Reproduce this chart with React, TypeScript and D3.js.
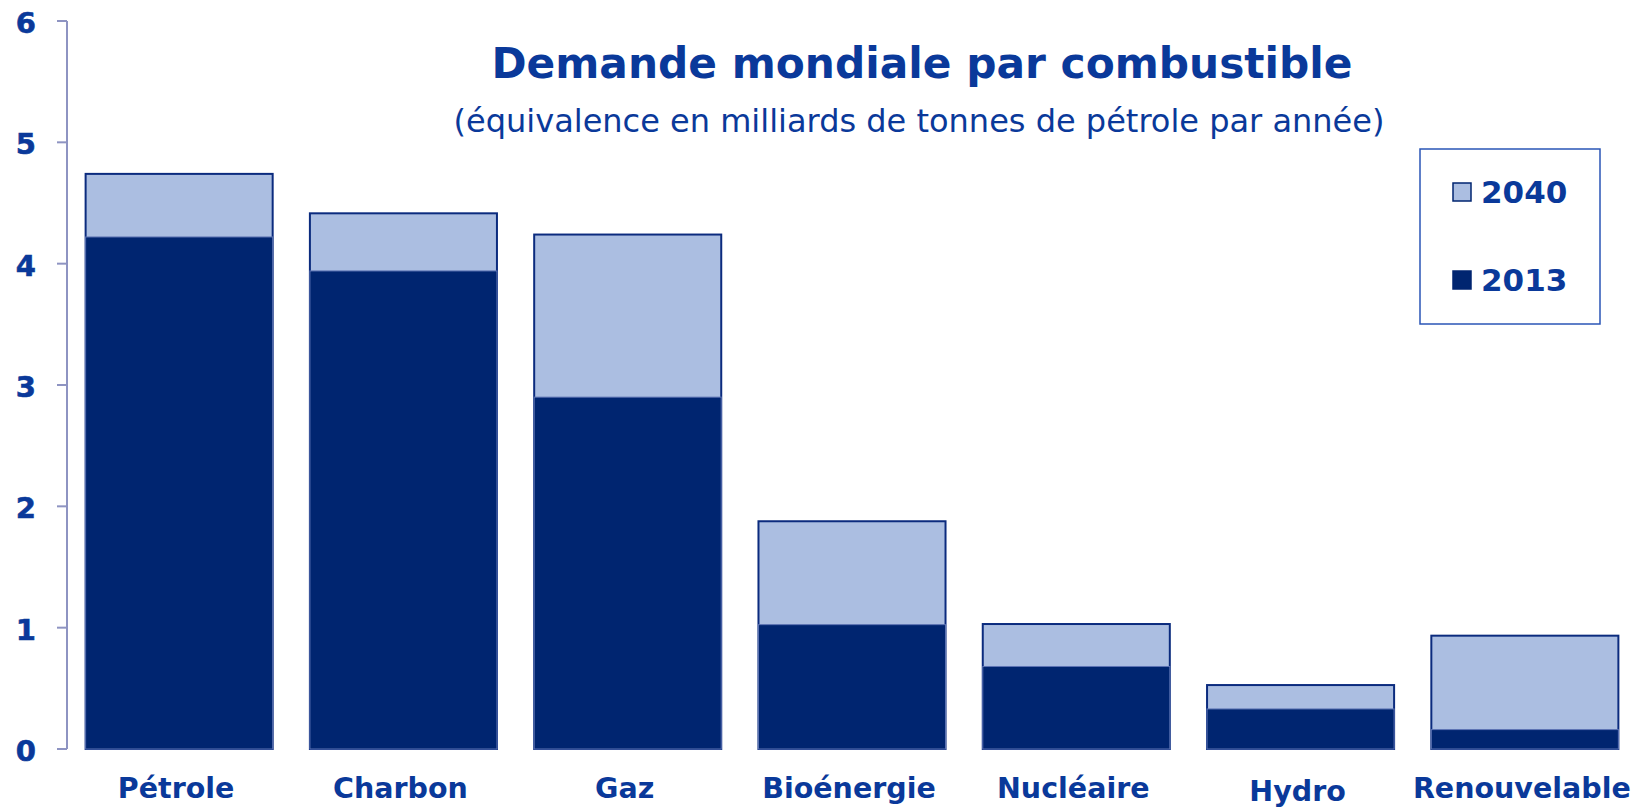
import React, { useEffect, useRef } from "react";
import * as d3 from "d3";

// categories and values (milliards de tep)
const categories = ["Pétrole", "Charbon", "Gaz", "Bioénergie", "Nucléaire", "Hydro", "Renouvelable"];
const values2013 = [4.22, 3.94, 2.9, 1.025, 0.68, 0.33, 0.16];
const values2040 = [4.74, 4.415, 4.24, 1.877, 1.03, 0.527, 0.934];
const yTicks = [0, 1, 2, 3, 4, 5, 6];
const legendItems = ["2040", "2013"];

const W = 1652;
const H = 809;
const DARK = "#002570";
const LIGHT = "#abbee1";
const TEXT = "#0a399a";
const FONT = "'DejaVu Sans', Verdana, sans-serif";

const App = () => {
  const svgRef = useRef<SVGSVGElement>(null);

  useEffect(() => {
    const svg = d3.select(svgRef.current);
    svg.selectAll("*").remove();

    const x = d3.scaleBand<string>()
      .domain(categories)
      .range([67, 1637])
      .paddingInner(0.166)
      .paddingOuter(0.083);

    const y = d3.scaleLinear().domain([0, 6]).range([749, 21]);

    // y axis
    const axis = svg.append("g");
    axis.append("line")
      .attr("x1", 67).attr("x2", 67)
      .attr("y1", y(6)).attr("y2", y(0))
      .attr("stroke", "#8e94c2").attr("stroke-width", 2);
    axis.selectAll("line.tick")
      .data(yTicks)
      .enter()
      .append("line")
      .attr("class", "tick")
      .attr("x1", 57).attr("x2", 67)
      .attr("y1", d => y(d)).attr("y2", d => y(d))
      .attr("stroke", "#8e94c2").attr("stroke-width", 2);
    axis.selectAll("text")
      .data(yTicks)
      .enter()
      .append("text")
      .attr("x", 36)
      .attr("y", d => y(d) + 2)
      .attr("text-anchor", "end")
      .attr("dominant-baseline", "central")
      .attr("font-family", FONT)
      .attr("font-weight", "bold")
      .attr("font-size", 29)
      .attr("fill", TEXT)
      .attr("stroke", TEXT)
      .attr("stroke-width", 0.6)
      .text(d => d);

    // 2040 bars (behind)
    svg.append("g")
      .selectAll("rect")
      .data(categories)
      .enter()
      .append("rect")
      .attr("x", d => x(d)!)
      .attr("width", x.bandwidth())
      .attr("y", (d, i) => y(values2040[i]))
      .attr("height", (d, i) => y(0) - y(values2040[i]))
      .attr("fill", LIGHT)
      .attr("stroke", "#0b2b7e")
      .attr("stroke-width", 2);

    // 2013 bars (front)
    svg.append("g")
      .selectAll("rect")
      .data(categories)
      .enter()
      .append("rect")
      .attr("x", d => x(d)!)
      .attr("width", x.bandwidth())
      .attr("y", (d, i) => y(values2013[i]))
      .attr("height", (d, i) => y(0) - y(values2013[i]))
      .attr("fill", DARK)
      .attr("stroke", "#5d74b4")
      .attr("stroke-width", 1);

    // category labels (Hydro sits a little lower in the original)
    svg.append("g")
      .selectAll("text")
      .data(categories)
      .enter()
      .append("text")
      .attr("x", d => x(d)! + x.bandwidth() / 2 - 3)
      .attr("y", d => (d === "Hydro" ? 801 : 798))
      .attr("text-anchor", "middle")
      .attr("font-family", FONT)
      .attr("font-weight", "bold")
      .attr("font-size", 28.5)
      .attr("fill", TEXT)
      .text(d => d);

    // title
    svg.append("text")
      .attr("x", 922).attr("y", 78)
      .attr("text-anchor", "middle")
      .attr("font-family", FONT)
      .attr("font-weight", "bold")
      .attr("font-size", 42.3)
      .attr("fill", TEXT)
      .text("Demande mondiale par combustible");

    svg.append("text")
      .attr("x", 919).attr("y", 132)
      .attr("text-anchor", "middle")
      .attr("font-family", FONT)
      .attr("font-size", 32)
      .attr("fill", TEXT)
      .text("(équivalence en milliards de tonnes de pétrole par année)");

    // legend
    const legend = svg.append("g");
    legend.append("rect")
      .attr("x", 1420).attr("y", 149)
      .attr("width", 180).attr("height", 175)
      .attr("fill", "white")
      .attr("stroke", "#2a55b6")
      .attr("stroke-width", 1.5);
    const rows = legend.selectAll("g.item")
      .data(legendItems)
      .enter()
      .append("g")
      .attr("transform", (d, i) => `translate(1453, ${183 + i * 88})`);
    rows.append("rect")
      .attr("width", 18).attr("height", 18)
      .attr("fill", (d, i) => (i === 0 ? LIGHT : DARK))
      .attr("stroke", DARK)
      .attr("stroke-width", 1.5);
    rows.append("text")
      .attr("x", 28).attr("y", 20)
      .attr("font-family", FONT)
      .attr("font-weight", "bold")
      .attr("font-size", 31)
      .attr("fill", TEXT)
      .text(d => d);
  }, []);

  return (
    <svg
      ref={svgRef}
      width={W}
      height={H}
      style={{ position: "absolute", left: 0, top: 0, background: "white", display: "block" }}
    ></svg>
  );
};

export default App;
